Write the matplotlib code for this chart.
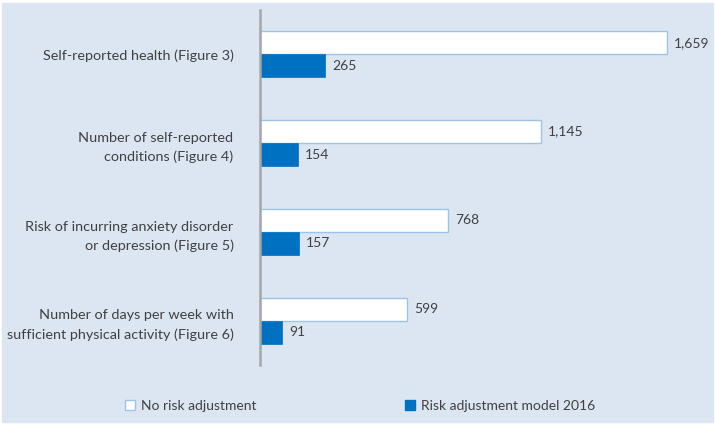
import matplotlib.pyplot as plt
from matplotlib.patches import Rectangle, Patch

categories = [
    "Self-reported health (Figure 3)",
    "Number of self-reported\nconditions (Figure 4)",
    "Risk of incurring anxiety disorder\nor depression (Figure 5)",
    "Number of days per week with\nsufficient physical activity (Figure 6)",
]
no_adjust = [1659, 1145, 768, 599]
model_2016 = [265, 154, 157, 91]
series_names = ["No risk adjustment", "Risk adjustment model 2016"]

plt.rcParams['font.family'] = ['Lato', 'DejaVu Sans']
txt = '#404040'
bg = '#dce6f2'

fig = plt.figure(figsize=(7.15, 4.26), dpi=100, facecolor='white')
fig.patches.append(Rectangle((2 / 715, 4 / 426), 711 / 715, 419 / 426,
                             transform=fig.transFigure, color=bg, zorder=-10))

ax = fig.add_axes([260 / 715, 61 / 426, 440 / 715, 355 / 426])
ax.set_facecolor('none')

h = 0.26
ys = list(range(len(categories)))
b1 = ax.barh([y - h / 2 for y in ys], no_adjust, height=h, color='white',
             edgecolor='#9dc3e6', linewidth=1)
b2 = ax.barh([y + h / 2 for y in ys], model_2016, height=h, color='#0070c0',
             edgecolor='#0070c0', linewidth=0.5)

for bars in (b1, b2):
    for r in bars:
        v = r.get_width()
        ax.annotate(f"{v:,.0f}", (v, r.get_y() + r.get_height() / 2),
                    xytext=(5, 0), textcoords='offset points',
                    va='center', ha='left', fontsize=10, color=txt)

ax.set_xlim(0, 440 / 0.2453)
ax.set_ylim(len(categories) - 0.5, -0.5)
ax.set_xticks([])
ax.set_yticks(ys)
ax.set_yticklabels(categories, fontsize=10.4, color=txt, linespacing=1.65)
ax.tick_params(axis='y', length=0, pad=19)
for s in ['top', 'right', 'bottom']:
    ax.spines[s].set_visible(False)
ax.spines['left'].set_color('#a6a6a6')
ax.spines['left'].set_linewidth(1.8)

handles = [Patch(facecolor='white', edgecolor='#9dc3e6', linewidth=1),
           Patch(facecolor='#0070c0', edgecolor='#0070c0')]
fig.legend(handles, series_names, loc='center', bbox_to_anchor=(360 / 715, 1 - 406 / 426),
           ncol=2, frameon=False, fontsize=10, handlelength=0.75, handleheight=0.75,
           handletextpad=0.4, columnspacing=10.7, labelcolor=txt)

fig.savefig('out.png', dpi=100, facecolor='white')
